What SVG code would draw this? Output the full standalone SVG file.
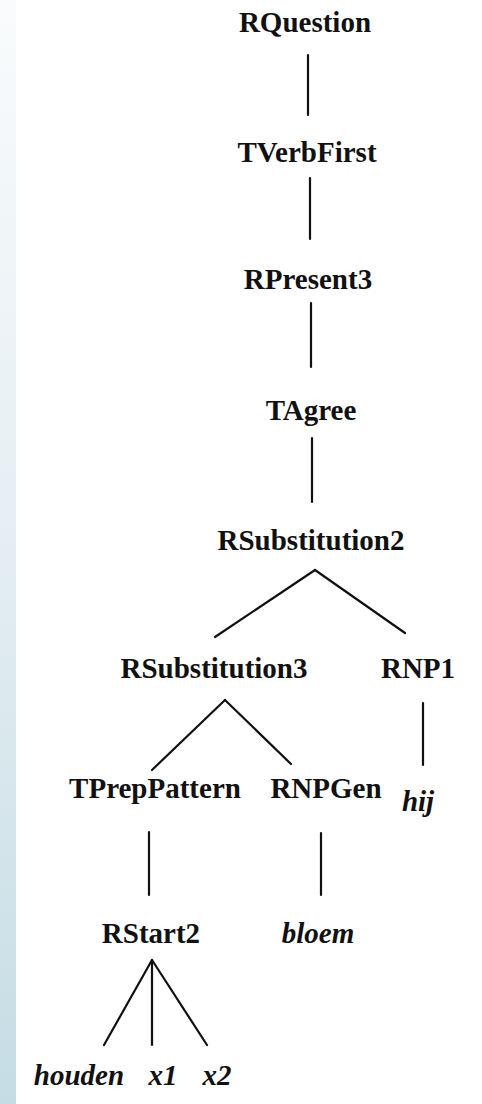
<svg xmlns="http://www.w3.org/2000/svg" width="482" height="1104" viewBox="0 0 482 1104">
  <defs>
    <linearGradient id="strip" x1="0" y1="0" x2="0" y2="1">
      <stop offset="0" stop-color="#f9fbfc"/>
      <stop offset="0.5" stop-color="#e4eef2"/>
      <stop offset="1" stop-color="#c5dce4"/>
    </linearGradient>
    <style>
      .lbl { font-family: "Liberation Serif", "Times New Roman", serif; font-size: 29px; font-weight: bold; fill: #111; text-anchor: middle; }
      .word { font-style: italic; }
      .edge { stroke: #111; stroke-width: 2.2; fill: none; stroke-linecap: round; }
    </style>
  </defs>
  <rect width="482" height="1104" fill="#fff"/>
  <rect x="0" y="0" width="16" height="1104" fill="url(#strip)"/>

  <g id="connectors">
    <line class="edge" x1="308" y1="55" x2="308" y2="115"/>
    <line class="edge" x1="310" y1="178" x2="310" y2="239"/>
    <line class="edge" x1="311" y1="303" x2="311" y2="367"/>
    <line class="edge" x1="312" y1="438" x2="312" y2="502"/>
    <line class="edge" x1="315" y1="570" x2="215" y2="637"/>
    <line class="edge" x1="315" y1="570" x2="405" y2="633"/>
    <line class="edge" x1="225" y1="700" x2="152" y2="770"/>
    <line class="edge" x1="225" y1="700" x2="291" y2="764"/>
    <line class="edge" x1="423" y1="703" x2="423" y2="765"/>
    <line class="edge" x1="149" y1="832" x2="149" y2="895"/>
    <line class="edge" x1="321" y1="833" x2="321" y2="895"/>
    <line class="edge" x1="152" y1="960" x2="104" y2="1045"/>
    <line class="edge" x1="152" y1="960" x2="152" y2="1045"/>
    <line class="edge" x1="152" y1="960" x2="207" y2="1045"/>
  </g>

  <g id="RQuestion"><text class="lbl" x="305" y="32">RQuestion</text></g>
  <g id="TVerbFirst"><text class="lbl" x="307" y="162">TVerbFirst</text></g>
  <g id="RPresent3"><text class="lbl" x="308" y="289">RPresent3</text></g>
  <g id="TAgree"><text class="lbl" x="311" y="420">TAgree</text></g>
  <g id="RSubstitution2"><text class="lbl" x="311" y="550">RSubstitution2</text></g>
  <g id="RSubstitution3"><text class="lbl" x="214" y="678">RSubstitution3</text></g>
  <g id="RNP1"><text class="lbl" x="418" y="678">RNP1</text></g>
  <g id="TPrepPattern"><text class="lbl" x="155" y="798">TPrepPattern</text></g>
  <g id="RNPGen"><text class="lbl" x="326" y="798">RNPGen</text></g>
  <g id="hij"><text class="lbl word" x="418" y="811">hij</text></g>
  <g id="RStart2"><text class="lbl" x="151" y="943">RStart2</text></g>
  <g id="bloem"><text class="lbl word" x="318" y="943">bloem</text></g>
  <g id="houden"><text class="lbl word" x="79" y="1085">houden</text></g>
  <g id="x1"><text class="lbl word" x="163" y="1085">x1</text></g>
  <g id="x2"><text class="lbl word" x="217" y="1085">x2</text></g>
</svg>
